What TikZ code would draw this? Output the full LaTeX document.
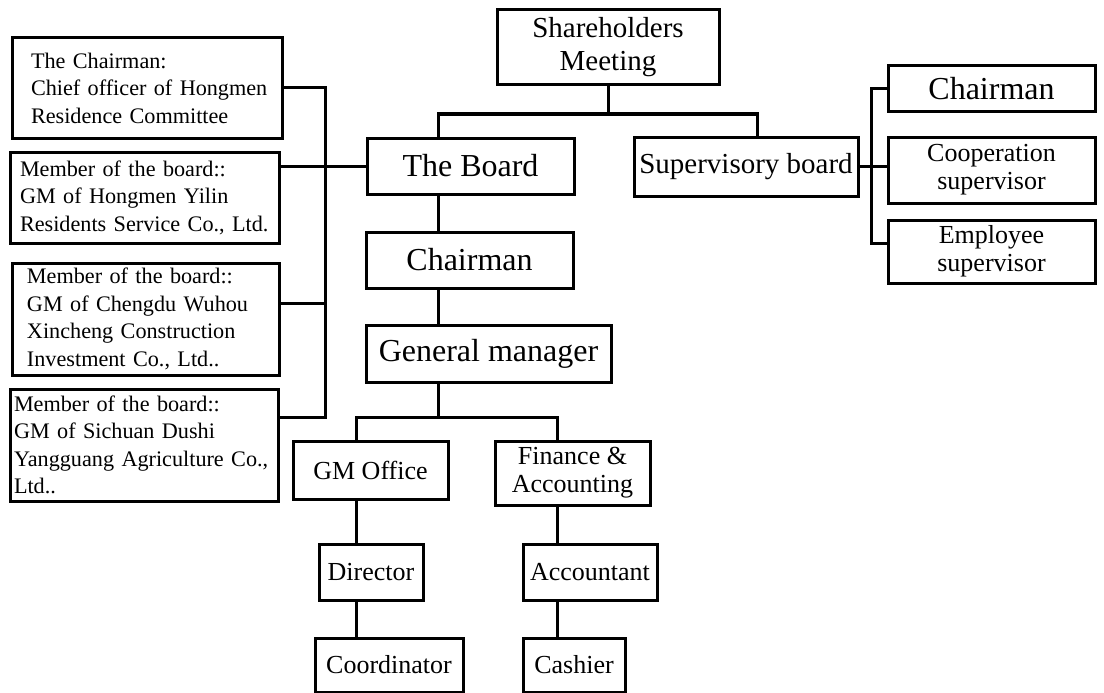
\documentclass[tikz,border=0pt]{standalone}
\usepackage{fontspec}
\setmainfont{Liberation Serif}

\begin{document}
\begin{tikzpicture}[
    x=1pt, y=-1pt,
    box/.style={draw, line width=3pt, inner sep=0pt, align=center},
    bigbox/.style={box, font=\fontsize{32}{34}\selectfont},
    midbox/.style={box, font=\fontsize{26}{28}\selectfont},
    memberbox/.style={box, align=left, inner ysep=0pt, font=\fontsize{22.2}{27.5}\selectfont},
    link/.style={line width=3pt}
]
    \useasboundingbox (0,0) rectangle (1104,693);

    % Top of the chart
    \node[box, minimum width=222, minimum height=75, font=\fontsize{29}{33}\selectfont] (share) at (608,47.5) {Shareholders\\Meeting};
    \node[bigbox, minimum width=207, minimum height=56] (board) at (470.5,166) {The Board};
    \node[box, minimum width=224, minimum height=59, font=\fontsize{29}{33}\selectfont] (superv) at (746,166.5) {Supervisory board};

    % Members of the board
    \node[memberbox, minimum height=100, inner xsep=19pt, text width=232pt] (m1) at (147,88) {The Chairman:\\\mbox{Chief officer of Hongmen}\\Residence Committee};
    \node[memberbox, minimum height=91, inner xsep=10pt, text width=249pt] (m2) at (144.5,197.5) {Member of the board::\\GM of Hongmen Yilin\\\mbox{Residents Service Co., Ltd.}};
    \node[memberbox, minimum height=112, inner xsep=15pt, text width=237pt] (m3) at (145.5,319) {Member of the board::\\GM of Chengdu Wuhou\\Xincheng Construction\\Investment Co., Ltd..};
    \node[memberbox, minimum height=112, inner xsep=4pt, text width=260pt] (m4) at (144,445) {Member of the board::\\GM of Sichuan Dushi\\\mbox{Yangguang Agriculture Co.,}\\Ltd..};

    % Supervisory side
    \node[bigbox, minimum width=207, minimum height=46] (schair) at (991.5,89) {Chairman};
    \node[midbox, minimum width=207, minimum height=66] (coop) at (991.5,170) {Cooperation\\supervisor};
    \node[midbox, minimum width=207, minimum height=63] (emp) at (991.5,251.5) {Employee\\supervisor};

    % Management
    \node[bigbox, minimum width=207, minimum height=56] (mchair) at (469.5,260) {Chairman};
    \node[bigbox, minimum width=245, minimum height=57] (gm) at (488.5,353.5) {General manager};
    \node[midbox, minimum width=155, minimum height=58] (gmoff) at (370.5,470) {GM Office};
    \node[midbox, minimum width=155, minimum height=64] (fin) at (572.5,473) {Finance \&\\Accounting};
    \node[midbox, minimum width=104, minimum height=56] (dir) at (371,572) {Director};
    \node[midbox, minimum width=134, minimum height=56] (acc) at (590,572) {Accountant};
    \node[midbox, minimum width=148, minimum height=54] (coord) at (389,665) {Coordinator};
    \node[midbox, minimum width=102, minimum height=54] (cash) at (574,665) {Cashier};

    % Bus lines
    \coordinate (topbus) at (0,114);
    \coordinate (spine) at (438,0);
    \coordinate (lbus) at (325,0);
    \coordinate (rbus) at (871,0);
    \coordinate (gbus) at (0,417);
    \coordinate (lcol) at (356,0);
    \coordinate (rcol) at (557,0);

    % Connections
    \draw[link] (share.south) -- (share.south |- topbus);
    \draw[link] (board.north -| spine) -- (spine |- topbus) -- ([xshift=11pt]superv.north |- topbus) -- ([xshift=11pt]superv.north);

    \draw[link] (m1.east) -- (m1.east -| lbus) -- ([yshift=28pt]m4.east -| lbus) -- ([yshift=28pt]m4.east);
    \draw[link] ([yshift=16pt]m3.east) -- ([yshift=16pt]m3.east -| lbus);
    \draw[link] (m2.east |- board.west) -- (board.west);

    \draw[link] (schair.west) -- (schair.west -| rbus) -- ([yshift=8pt]emp.west -| rbus) -- ([yshift=8pt]emp.west);
    \draw[link] (superv.east) -- (coop.west |- superv.east);

    \draw[link] (board.south -| spine) -- (mchair.north -| spine);
    \draw[link] (mchair.south -| spine) -- (gm.north -| spine);
    \draw[link] (gm.south -| spine) -- (spine |- gbus);
    \draw[link] (gmoff.north -| lcol) -- (lcol |- gbus) -- (rcol |- gbus) -- (fin.north -| rcol);

    \draw[link] (gmoff.south -| lcol) -- (dir.north -| lcol);
    \draw[link] (dir.south -| lcol) -- (coord.north -| lcol);
    \draw[link] (fin.south -| rcol) -- (acc.north -| rcol);
    \draw[link] (acc.south -| rcol) -- (cash.north -| rcol);

\end{tikzpicture}
\end{document}
